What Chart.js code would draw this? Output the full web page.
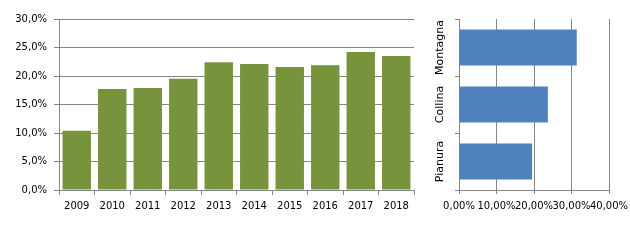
<!DOCTYPE html>
<html><head><meta charset="utf-8">
<script src="https://cdn.jsdelivr.net/npm/chart.js@4/dist/chart.umd.min.js"></script>
<style>
html,body{margin:0;padding:0;background:#fff;}
#wrap{position:relative;width:630px;height:240px;}
#c1{position:absolute;left:0;top:0;}
#c2{position:absolute;left:420px;top:0;}
</style></head>
<body>
<div id="wrap">
<canvas id="c1" width="420" height="240" style="width:420px;height:240px"></canvas>
<canvas id="c2" width="210" height="240" style="width:210px;height:240px"></canvas>
</div>
<script>
const years = ['2009','2010','2011','2012','2013','2014','2015','2016','2017','2018'];
const yearValues = [10.4, 17.7, 17.9, 19.5, 22.4, 22.1, 21.6, 21.9, 24.2, 23.5];
const zones = ['Montagna','Collina','Pianura'];
const zoneValues = [31.4, 23.7, 19.5];

const GRID = '#868686';
const FONT = 'DejaVu Sans';
Chart.defaults.font.family = FONT;
Chart.defaults.color = '#000';

new Chart(document.getElementById('c1'), {
  type: 'bar',
  data: { labels: years, datasets: [{ data: yearValues, backgroundColor: '#77933C', borderWidth: 0,
    categoryPercentage: 1, barPercentage: 0.8 }] },
  options: {
    responsive: false, animation: false, devicePixelRatio: 1,
    plugins: { legend: { display: false }, tooltip: { enabled: false } },
    layout: { padding: { top: 19, right: 6, left: 0, bottom: 0 } },
    scales: {
      x: {
        offset: true,
        grid: { offset: true, drawOnChartArea: false, drawTicks: true, tickLength: 5, color: GRID },
        border: { display: true, color: GRID },
        ticks: { font: { size: 10, family: FONT }, padding: 5, maxRotation: 0, minRotation: 0, autoSkip: false },
        afterFit: s => { s.height = 50; s.paddingLeft = 0; s.paddingRight = 0; }
      },
      y: {
        min: 0, max: 30,
        grid: { color: GRID, tickLength: 5 },
        border: { display: true, color: GRID },
        ticks: { stepSize: 5, font: { size: 10, family: FONT }, padding: 7,
          callback: v => v.toFixed(1).replace('.', ',') + '%' },
        afterFit: s => { s.width = 59; s.paddingTop = 0; s.paddingBottom = 0; }
      }
    }
  }
});

new Chart(document.getElementById('c2'), {
  type: 'bar',
  data: { labels: zones, datasets: [{ data: zoneValues, backgroundColor: '#4F81BD', borderWidth: 0,
    categoryPercentage: 1, barPercentage: 0.63 }] },
  options: {
    indexAxis: 'y',
    responsive: false, animation: false, devicePixelRatio: 1,
    plugins: { legend: { display: false }, tooltip: { enabled: false } },
    layout: { padding: { top: 19, right: 21, left: 0, bottom: 0 } },
    scales: {
      x: {
        min: 0, max: 40,
        grid: { color: GRID, tickLength: 4 },
        border: { display: true, color: GRID },
        ticks: { stepSize: 10, font: { size: 10, family: FONT }, padding: 6, maxRotation: 0, minRotation: 0, autoSkip: false,
          callback: v => v.toFixed(2).replace('.', ',') + '%' },
        afterFit: s => { s.height = 50; s.paddingLeft = 0; s.paddingRight = 0; }
      },
      y: {
        offset: true,
        grid: { offset: true, drawOnChartArea: false, tickLength: 4, color: GRID },
        border: { display: true, color: GRID },
        ticks: { font: { size: 11, family: FONT }, minRotation: 90, maxRotation: 90, crossAlign: 'center', padding: -13, autoSkip: false },
        afterFit: s => { s.width = 39; s.paddingTop = 0; s.paddingBottom = 0; }
      }
    }
  }
});
</script>
</body></html>
